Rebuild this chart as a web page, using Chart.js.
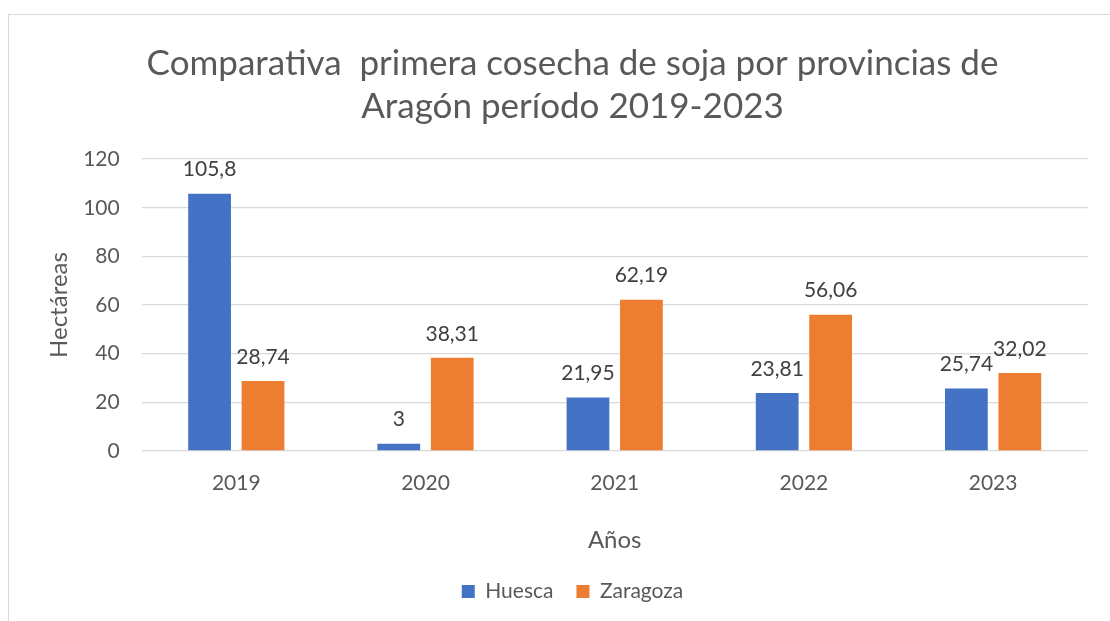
<!DOCTYPE html>
<html>
<head>
<meta charset="utf-8">
<script src="https://cdn.jsdelivr.net/npm/chart.js@4"></script>
<style>
  html, body { margin: 0; padding: 0; width: 1110px; height: 621px; overflow: hidden; background: #fff; }
  #frame { position: absolute; left: 8px; top: 14px; width: 1200px; height: 700px; border-left: 1.5px solid #d9d9d9; border-top: 1.5px solid #d9d9d9; }
  #wrap { position: absolute; left: 0; top: 0; width: 1145px; height: 621px; }
</style>
</head>
<body>
<div id="frame"></div>
<div id="wrap"><canvas id="c" width="1145" height="621"></canvas></div>
<script>
const categories = ['2019', '2020', '2021', '2022', '2023'];
const huesca = [105.8, 3, 21.95, 23.81, 25.74];
const zaragoza = [28.74, 38.31, 62.19, 56.06, 32.02];
const seriesNames = ['Huesca', 'Zaragoza'];
const titleLines = ['Comparativa  primera cosecha de soja por provincias de', 'Aragón período 2019-2023'];
const yTitle = 'Hectáreas';
const xTitle = 'Años';

const FONT = 'Lato, "Open Sans", sans-serif';
const GRAY = '#595959';

const dataLabels = {
  id: 'dataLabels',
  afterDatasetsDraw(chart) {
    const ctx = chart.ctx;
    ctx.save();
    ctx.font = '21px ' + FONT;
    ctx.fillStyle = '#404040';
    ctx.textAlign = 'center';
    ctx.textBaseline = 'middle';
    chart.data.datasets.forEach((ds, i) => {
      const meta = chart.getDatasetMeta(i);
      meta.data.forEach((el, j) => {
        const txt = String(ds.data[j]).replace('.', ',');
        ctx.fillText(txt, el.x, el.y - 24);
      });
    });
    ctx.restore();
  }
};

new Chart(document.getElementById('c'), {
  type: 'bar',
  data: {
    labels: categories,
    datasets: [
      { label: seriesNames[0], data: huesca, backgroundColor: '#4472C4', categoryPercentage: 0.565, barPercentage: 0.8 },
      { label: seriesNames[1], data: zaragoza, backgroundColor: '#ED7D31', categoryPercentage: 0.565, barPercentage: 0.8 }
    ]
  },
  options: {
    responsive: false,
    animation: false,
    layout: { padding: { left: 0, right: 0, top: 0, bottom: 9 } },
    plugins: {
      title: {
        display: true,
        text: titleLines,
        color: GRAY,
        font: { family: FONT, size: 35, weight: 'normal', lineHeight: 1.23 },
        padding: { top: 42, bottom: 31 }
      },
      legend: {
        position: 'bottom',
        labels: {
          color: GRAY,
          font: { family: FONT, size: 21 },
          boxWidth: 13,
          boxHeight: 13,
          padding: 23
        }
      },
      tooltip: { enabled: false }
    },
    scales: {
      x: {
        grid: { display: false },
        border: { display: false },
        ticks: { color: GRAY, font: { family: FONT, size: 21 }, padding: 12 },
        title: { display: true, text: xTitle, color: GRAY, font: { family: FONT, size: 24 }, padding: { top: 0, bottom: 3 } },
        afterFit(scale) { scale.height = 107; }
      },
      y: {
        min: 0, max: 120,
        ticks: { stepSize: 20, color: GRAY, font: { family: FONT, size: 21 }, padding: 22 },
        grid: { color: '#d9d9d9', lineWidth: 1.3, drawTicks: false },
        border: { display: false },
        title: { display: true, text: yTitle, color: GRAY, font: { family: FONT, size: 24 }, padding: { top: 45, bottom: 0 } },
        afterFit(scale) { scale.width = 141.7; }
      },
      yRight: {
        type: 'linear',
        position: 'right',
        display: true,
        grid: { display: false, drawTicks: false },
        border: { display: false },
        ticks: { display: false },
        afterFit(scale) { scale.width = 57.3; }
      }
    }
  },
  plugins: [dataLabels]
});
</script>
</body>
</html>
